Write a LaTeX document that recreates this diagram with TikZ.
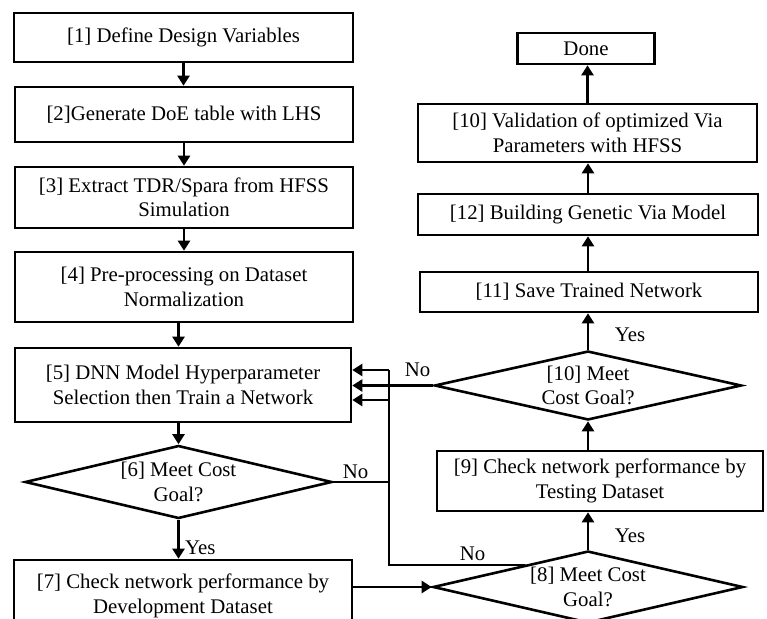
\documentclass[tikz,border=0pt]{standalone}
\usepackage{fontspec}
\setmainfont{Liberation Serif}
\usetikzlibrary{shapes.geometric,arrows.meta,calc}
\begin{document}
\begin{tikzpicture}[x=1pt,y=-1pt,
  font=\fontsize{20.8}{24.5}\selectfont,
  box/.style={draw,line width=2.6pt,inner sep=0pt,align=center},
  dia/.style={draw,diamond,line width=2.6pt,inner sep=0pt,align=center},
  arr/.style={line width=2.4pt,-{Triangle[length=10pt,width=12pt]}},
  ln/.style={line width=2.4pt},
  lbl/.style={inner sep=0pt}]
\useasboundingbox (0,0) rectangle (767,618);
\node[box,minimum width=339pt,minimum height=49pt] (b1) at (183.5,37.5) {[1] Define Design Variables};
\node[box,minimum width=338pt,minimum height=55pt] (b2) at (184,114.5) {[2]Generate DoE table with LHS};
\node[box,minimum width=338pt,minimum height=61pt] (b3) at (184,197.5) {[3] Extract TDR/Spara from HFSS\\Simulation};
\node[box,minimum width=338pt,minimum height=70pt] (b4) at (184,287) {[4] Pre-processing on Dataset\\Normalization};
\node[box,minimum width=336pt,minimum height=74pt] (b5) at (183,385) {[5] DNN Model Hyperparameter\\Selection then Train a Network};
\node[dia,aspect=4.2,minimum width=307pt,minimum height=73pt] (d6) at (178.5,482) {[6] Meet Cost\\Goal?};
\node[box,minimum width=338pt,minimum height=72pt] (b7) at (183,596) {[7] Check network performance by\\Development Dataset};
\node[dia,aspect=4.3,minimum width=310pt,minimum height=72pt] (d8) at (588,587) {[8] Meet Cost\\Goal?};
\node[box,minimum width=326pt,minimum height=60pt] (b9) at (600,481) {[9] Check network performance by\\Testing Dataset};
\node[dia,aspect=4.45,minimum width=307pt,minimum height=69pt] (d10) at (588,385.5) {[10] Meet\\Cost Goal?};
\node[box,minimum width=338pt,minimum height=40pt] (b11) at (589,292) {[11] Save Trained Network};
\node[box,minimum width=340pt,minimum height=41pt] (b12) at (588,214.5) {[12] Building Genetic Via Model};
\node[box,minimum width=339pt,minimum height=58pt] (b10) at (587.5,133) {[10] Validation of optimized Via\\Parameters with HFSS};
\node[box,minimum width=137pt,minimum height=31pt] (done) at (586,48.5) {Done};
% left column arrows
\draw[arr] (b1.south) -- (b1.south |- b2.north);
\draw[arr] (b2.south) -- (b2.south |- b3.north);
\draw[arr] (b3.south) -- (b3.south |- b4.north);
\draw[arr] (d6.north |- b4.south) -- (d6.north |- b5.north);
\draw[arr] (d6.north |- b5.south) -- (d6.north);
\draw[arr] (d6.south) -- (d6.south |- b7.north);
% right column arrows
\draw[arr] (b7.east |- d8.west) -- (d8.west);
\draw[arr] (d8.north) -- (d8.north |- b9.south);
\draw[arr] (d10.south |- b9.north) -- (d10.south);
\draw[arr] (d10.north) -- (d10.north |- b11.south);
\draw[arr] (b11.north -| b12.south) -- (b12.south);
\draw[arr] (b12.north) -- (b12.north |- b10.south);
\draw[arr] (b10.north) -- (b10.north |- done.south);
% feedback
\coordinate (vt) at (389,370);
\coordinate (vb) at (389,565);
\coordinate (e8) at ($(d8.west)!0.6!(d8.north)$);
\draw[ln] (e8) -- (vb -| e8) -- (vb) -- (vt);
\draw[arr] (vt) -- (vt -| b5.east);
\draw[arr] (389,400) -- (b5.east |- 389,400);
\draw[arr] (d10.west) -- (d10.west -| b5.east);
\draw[ln] (d6.east) -- (d6.east -| vb);
% labels
\node[lbl,anchor=west] (y6) at (185,548) {Yes};
\node[lbl] (y8) at (630,536) {Yes};
\node[lbl] (y10) at (630,335) {Yes};
\node[lbl] (n6) at (355.5,472) {No};
\node[lbl] (n8) at (472.5,554) {No};
\node[lbl] (n10) at (417.5,370) {No};
\end{tikzpicture}
\end{document}
